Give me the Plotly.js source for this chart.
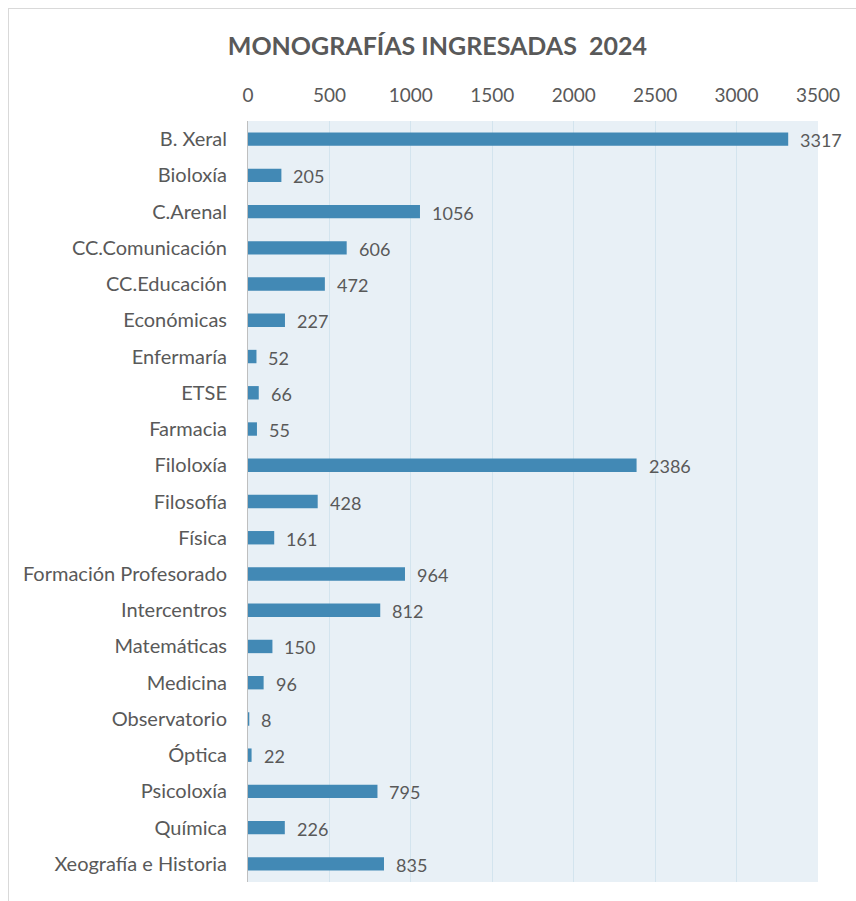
<!DOCTYPE html>
<html>
<head>
<meta charset="utf-8">
<script src="https://cdn.plot.ly/plotly-3.0.1.min.js"></script>
<style>
html,body{margin:0;padding:0;background:#fff;}
#wrap{position:relative;width:856px;height:901px;}
#frame{position:absolute;left:8px;top:8px;width:860px;height:900px;border-left:1px solid #d9d9d9;border-top:1px solid #d9d9d9;box-sizing:border-box;pointer-events:none;}
#chart{position:absolute;left:0;top:0;width:856px;height:901px;}
</style>
</head>
<body>
<div id="wrap"><div id="chart"></div><div id="frame"></div></div>
<script>
const categories = ["B. Xeral","Bioloxía","C.Arenal","CC.Comunicación","CC.Educación","Económicas","Enfermaría","ETSE","Farmacia","Filoloxía","Filosofía","Física","Formación Profesorado","Intercentros","Matemáticas","Medicina","Observatorio","Óptica","Psicoloxía","Química","Xeografía e Historia"];
const values = [3317,205,1056,606,472,227,52,66,55,2386,428,161,964,812,150,96,8,22,795,226,835];
const xTicks = [0,500,1000,1500,2000,2500,3000,3500];
const titleText = "MONOGRAFÍAS INGRESADAS&nbsp; 2024";

const FONT = "Lato, 'Open Sans', sans-serif";
const GREY = "#595959";

const trace = {
  type: "bar",
  orientation: "h",
  x: values,
  y: categories,
  width: 0.37,
  marker: {color: "#4289b5", line: {width: 0}},
  hoverinfo: "none"
};

const annotations = categories.map((c, i) => ({
  x: values[i], y: c, xref: "x", yref: "y",
  text: String(values[i]), showarrow: false,
  xanchor: "left", yanchor: "middle", xshift: 10, yshift: -1,
  font: {family: FONT, size: 18, color: GREY}
}));

const layout = {
  width: 856, height: 901,
  margin: {l: 248, r: 38, t: 121, b: 19},
  paper_bgcolor: "rgba(0,0,0,0)",
  plot_bgcolor: "#e8f0f6",
  showlegend: false,
  title: {
    text: "<b>" + titleText + "</b>",
    x: 0.511, xref: "container", xanchor: "center",
    y: 0.949, yref: "container", yanchor: "middle",
    font: {family: FONT, size: 25, color: GREY}
  },
  xaxis: {
    side: "top",
    range: [0, 3500],
    tickvals: xTicks,
    ticktext: xTicks.map(String),
    showgrid: true, gridcolor: "#d3e4ee", gridwidth: 1,
    zeroline: false, showline: false,
    ticks: "outside", ticklen: 10, tickcolor: "rgba(0,0,0,0)",
    tickfont: {family: FONT, size: 19, color: GREY},
    fixedrange: true
  },
  yaxis: {
    autorange: "reversed",
    type: "category",
    showgrid: false, zeroline: false,
    showline: true, linecolor: "#bfbfbf", linewidth: 1,
    ticks: "outside", ticklen: 16, tickcolor: "rgba(0,0,0,0)",
    tickfont: {family: FONT, size: 20, color: GREY},
    fixedrange: true
  },
  annotations: annotations
};

Plotly.newPlot("chart", [trace], layout, {displayModeBar: false, staticPlot: true});
</script>
</body>
</html>
